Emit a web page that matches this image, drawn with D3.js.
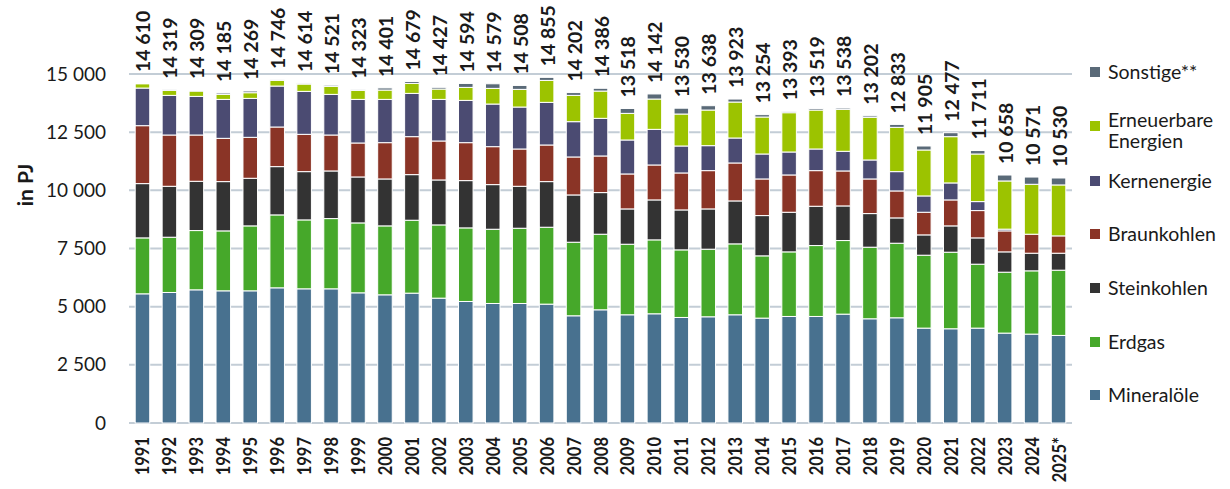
<!DOCTYPE html>
<html>
<head>
<meta charset="utf-8">
<script src="https://cdn.jsdelivr.net/npm/d3@7"></script>
<style>
  body { margin: 0; background: #fff; }
  svg { display: block; }
</style>
</head>
<body>
<div id="plot"></div>
<script>
const width = 1230
const height = 489
const margin = ({top: 74, right: 158, bottom: 66, left: 129})

// values in PJ
const years = ["1991","1992","1993","1994","1995","1996","1997","1998","1999","2000",
  "2001","2002","2003","2004","2005","2006","2007","2008","2009","2010",
  "2011","2012","2013","2014","2015","2016","2017","2018","2019","2020",
  "2021","2022","2023","2024","2025*"]
const totals = [14610,14319,14309,14185,14269,14746,14614,14521,14323,14401,
  14679,14427,14594,14579,14508,14855,14202,14386,13518,14142,
  13530,13638,13923,13254,13393,13519,13538,13202,12833,11905,
  12477,11711,10658,10571,10530]
const mineraloele = [5552,5610,5724,5681,5681,5810,5767,5767,5595,5509,
  5581,5366,5223,5137,5137,5109,4608,4865,4651,4694,
  4536,4565,4651,4508,4579,4579,4679,4479,4522,4078,
  4050,4078,3864,3821,3764]
const erdgas = [2404,2375,2547,2576,2791,3134,2962,3019,3005,2963,
  3134,3148,3163,3191,3234,3305,3162,3249,3033,3177,
  2905,2905,3048,2676,2776,3048,3163,3077,3205,3134,
  3291,2748,2618,2719,2804]
const steinkohlen = [2333,2189,2118,2118,2046,2075,2075,2047,1975,2017,
  1960,1932,2032,1918,1803,1961,2032,1789,1517,1717,
  1717,1731,1846,1731,1703,1689,1488,1445,1088,873,
  1131,1130,873,758,730]
const braunkohlen = [2490,2204,1989,1860,1760,1703,1603,1545,1460,1560,
  1632,1675,1631,1631,1603,1574,1632,1574,1503,1502,
  1589,1646,1631,1574,1603,1531,1503,1488,1159,973,
  1116,1174,902,816,744]
const kernenergie = [1617,1703,1660,1674,1674,1760,1846,1746,1874,1860,
  1860,1788,1817,1832,1803,1832,1517,1617,1460,1531,
  1159,1073,1073,1073,987,930,844,816,830,701,
  730,386,75,0,0]
const erneuerbare = [186,215,229,215,244,243,315,343,387,401,
  429,444,558,673,759,944,1130,1173,1144,1303,
  1374,1531,1546,1589,1689,1674,1803,1832,1903,1975,
  1989,2046,2071,2146,2190]
const sonstige = [28,23,42,61,73,21,46,54,27,91,
  83,74,170,197,169,130,121,119,210,218,
  250,187,128,103,56,68,58,65,126,171,
  170,149,255,311,298]

const yTicks = [0, 2500, 5000, 7500, 10000, 12500, 15000]

const series = [
  {key: "Mineralöle", values: mineraloele, color: "#48718f"},
  {key: "Erdgas", values: erdgas, color: "#46a82a"},
  {key: "Steinkohlen", values: steinkohlen, color: "#333333"},
  {key: "Braunkohlen", values: braunkohlen, color: "#8a3426"},
  {key: "Kernenergie", values: kernenergie, color: "#4b4b72"},
  {key: "Erneuerbare Energien", values: erneuerbare, color: "#9cc300"},
  {key: "Sonstige**", values: sonstige, color: "#5a6a78"}
]

const table = years.map((yr, i) => {
  const row = {year: yr, total: totals[i]}
  series.forEach(s => row[s.key] = s.values[i])
  return row
})

const stacked = d3.stack().keys(series.map(s => s.key))(table)

const x = d3.scaleBand()
  .domain(years)
  .range([margin.left, width - margin.right])
  .paddingInner(0.46)
  .paddingOuter(0.23)

const y = d3.scaleLinear()
  .domain([0, 15000])
  .range([height - margin.bottom, margin.top])

const fmt = v => d3.format(",")(v).replace(/,/g, " ")

const svg = d3.select("#plot")
  .append("svg")
  .attr("width", width)
  .attr("height", height)
  .attr("viewBox", [0, 0, width, height])
  .style("font-family", "Lato, 'Open Sans', sans-serif")

// grid lines
svg.append("g")
  .attr("class", "grid")
  .selectAll("line")
  .data(yTicks)
  .join("line")
  .attr("x1", margin.left)
  .attr("x2", width - margin.right)
  .attr("y1", d => y(d))
  .attr("y2", d => y(d))
  .attr("stroke", "#c3cdd6")
  .attr("stroke-width", 2)

// y axis labels
const yAxis = g => g
  .attr("transform", `translate(${margin.left - 20},0)`)
  .call(d3.axisLeft(y).tickValues(yTicks).tickSize(0).tickFormat(fmt))
  .call(g => g.select(".domain").remove())
  .call(g => g.selectAll("text")
    .attr("font-size", 19)
    .attr("fill", "#1a1a1a")
    .attr("font-family", "Lato, sans-serif"))

svg.append("g").attr("class", "yaxis").call(yAxis)

svg.append("text")
  .attr("transform", `translate(${33},${185}) rotate(-90)`)
  .attr("text-anchor", "middle")
  .attr("font-weight", "bold")
  .attr("font-size", 21)
  .attr("fill", "#1a1a1a")
  .text("in PJ")

// bars
svg.append("g")
  .selectAll("g")
  .data(stacked)
  .join("g")
  .attr("fill", (d, i) => series[i].color)
  .selectAll("rect")
  .data(d => d)
  .join("rect")
  .attr("x", d => x(d.data.year))
  .attr("y", d => y(d[1]))
  .attr("height", d => Math.max(0, y(d[0]) - y(d[1])))
  .attr("width", x.bandwidth())
  .attr("stroke", "#fff")
  .attr("stroke-width", 1)

// total labels
svg.append("g")
  .selectAll("text")
  .data(table)
  .join("text")
  .attr("transform", d => `translate(${x(d.year) + x.bandwidth() / 2 + 8},${y(d.total) - 11}) rotate(-90)`)
  .attr("text-anchor", "start")
  .attr("font-weight", "bold")
  .attr("font-size", 19.5)
  .attr("fill", "#1a1a1a")
  .text(d => fmt(d.total))

// year labels
svg.append("g")
  .selectAll("text")
  .data(years)
  .join("text")
  .attr("transform", d => `translate(${x(d) + x.bandwidth() / 2 + 7},${437}) rotate(-90) scale(1,1.15)`)
  .attr("text-anchor", "end")
  .attr("font-weight", "bold")
  .attr("font-size", 16.5)
  .attr("fill", "#1a1a1a")
  .text(d => d)

// legend
const legendItems = [
  {key: "Sonstige**", lines: ["Sonstige**"], y: 72},
  {key: "Erneuerbare Energien", lines: ["Erneuerbare", "Energien"], y: 120},
  {key: "Kernenergie", lines: ["Kernenergie"], y: 181},
  {key: "Braunkohlen", lines: ["Braunkohlen"], y: 234},
  {key: "Steinkohlen", lines: ["Steinkohlen"], y: 288},
  {key: "Erdgas", lines: ["Erdgas"], y: 342},
  {key: "Mineralöle", lines: ["Mineralöle"], y: 395}
]

const legend = svg.append("g")
  .selectAll("g")
  .data(legendItems)
  .join("g")
  .attr("transform", d => `translate(1090,${d.y})`)

legend.append("rect")
  .attr("x", 0)
  .attr("y", d => d.lines.length > 1 ? 1 : -5)
  .attr("width", 10)
  .attr("height", 10)
  .attr("fill", d => series.find(s => s.key === d.key).color)

legend.append("text")
  .attr("x", 18)
  .attr("font-size", 19.5)
  .attr("fill", "#1a1a1a")
  .selectAll("tspan")
  .data(d => d.lines)
  .join("tspan")
  .attr("x", 18)
  .attr("y", (d, i) => i * 21 + 7)
  .text(d => d)
</script>
</body>
</html>
